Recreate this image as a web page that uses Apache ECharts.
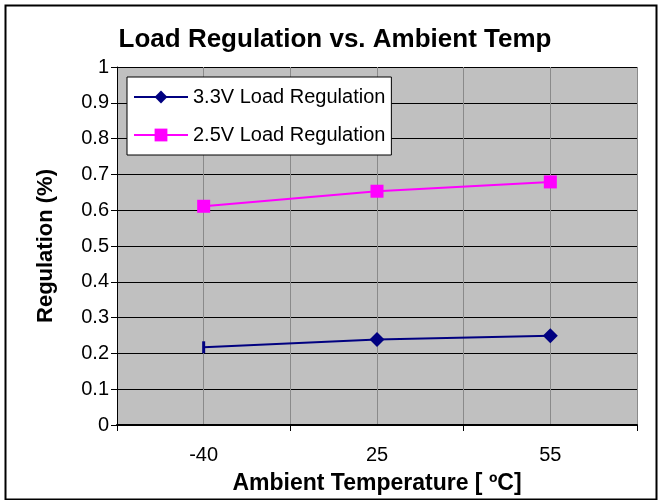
<!DOCTYPE html>
<html><head><meta charset="utf-8">
<script src="https://cdn.jsdelivr.net/npm/echarts@6/dist/echarts.min.js"></script>
<style>html,body{margin:0;padding:0;background:#fff}#c{width:658px;height:500px}</style>
</head><body><div id="c"></div>
<script>
const categories = ['-40', '25', '55'];
const reg33 = [0.217, 0.239, 0.249];
const reg25 = [0.611, 0.653, 0.679];
const yTicks = [0, 0.1, 0.2, 0.3, 0.4, 0.5, 0.6, 0.7, 0.8, 0.9, 1];

const FONT = 'Liberation Sans, Arial, sans-serif';
const chart = echarts.init(document.getElementById('c'), null, {renderer: 'canvas'});
const data33 = reg33.map((v, i) => i === 0 ? {value: v, symbol: 'rect', symbolSize: [3, 12]} : v);
chart.setOption({
  animation: false,
  backgroundColor: '#fff',
  title: {
    text: 'Load Regulation vs. Ambient Temp',
    left: 330, top: 22, textAlign: 'center',
    textStyle: {fontFamily: FONT, fontSize: 26, fontWeight: 'bold', color: '#000'}
  },
  graphic: [{
    type: 'rect', left: 3, top: 3, shape: {width: 651, height: 494},
    style: {fill: 'none', stroke: '#000', lineWidth: 2}, silent: true, z: 100
  }],
  legend: {
    left: 127, top: 77, orient: 'vertical',
    backgroundColor: '#fff', borderColor: '#000', borderWidth: 1,
    padding: [10, 6, 10, 6], itemGap: 18,
    itemWidth: 54, itemHeight: 16,
    textStyle: {fontFamily: FONT, fontSize: 20, color: '#000'},
    data: ['3.3V Load Regulation', '2.5V Load Regulation']
  },
  grid: {left: 117, top: 67, right: 21, bottom: 75, show: true, backgroundColor: '#C0C0C0', borderWidth: 0},
  xAxis: [{
    type: 'category', data: categories, position: 'bottom',
    name: 'Ambient Temperature [ ºC]', nameLocation: 'middle', nameGap: 47,
    nameTextStyle: {fontFamily: FONT, fontSize: 23, fontWeight: 'bold', color: '#000'},
    axisLine: {lineStyle: {color: '#000', width: 2}},
    axisTick: {show: true, length: 6, lineStyle: {color: '#000', width: 1}},
    axisLabel: {fontFamily: FONT, fontSize: 20, color: '#000', margin: 20},
    splitLine: {show: false}
  }, {
    type: 'value', min: 0, max: 6, interval: 1, position: 'top',
    axisLine: {show: false}, axisTick: {show: false}, axisLabel: {show: false},
    splitLine: {show: true, lineStyle: {color: '#8a8a8a', width: 1}}
  }],
  yAxis: {
    type: 'value', min: 0, max: 1, interval: 0.1,
    name: 'Regulation (%)', nameLocation: 'middle', nameGap: 60, nameRotate: 90,
    nameTextStyle: {fontFamily: FONT, fontSize: 22, fontWeight: 'bold', color: '#000'},
    axisLine: {show: true, lineStyle: {color: '#000', width: 1}},
    axisTick: {show: true, length: 6, lineStyle: {color: '#000'}},
    axisLabel: {fontFamily: FONT, fontSize: 20, color: '#000', margin: 8,
      formatter: v => { const t = yTicks.find(x => Math.abs(x - v) < 1e-9); return t === undefined ? '' : String(t); }},
    splitLine: {show: true, lineStyle: {color: '#000', width: 1}}
  },
  series: [{
    name: '3.3V Load Regulation', type: 'line', xAxisIndex: 0,
    data: data33, symbol: 'diamond', symbolSize: 15,
    itemStyle: {color: '#000080'}, lineStyle: {color: '#000080', width: 2}, z: 5
  }, {
    name: '2.5V Load Regulation', type: 'line', xAxisIndex: 0,
    data: reg25, symbol: 'rect', symbolSize: 13,
    itemStyle: {color: '#FF00FF'}, lineStyle: {color: '#FF00FF', width: 2}, z: 5
  }]
});
</script></body></html>
